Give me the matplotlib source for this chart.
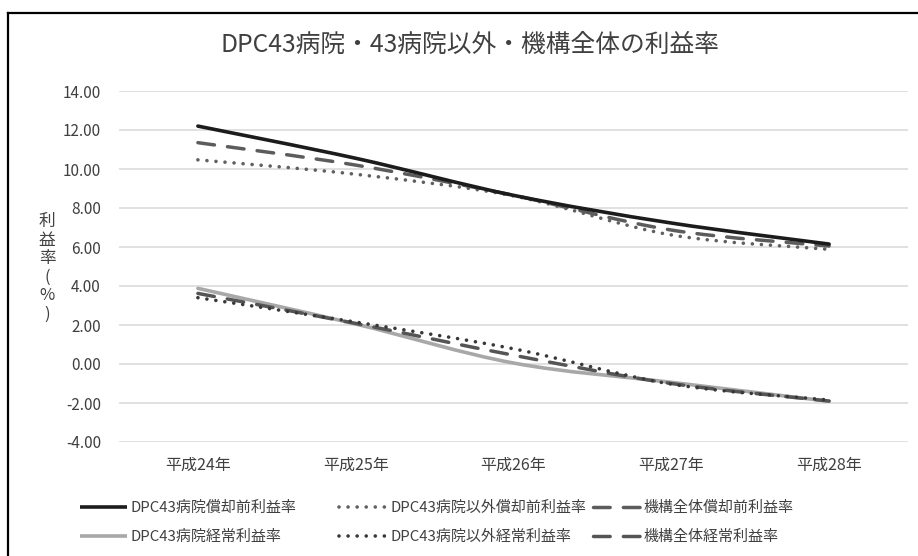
import matplotlib
matplotlib.use("Agg")
import matplotlib.pyplot as plt
from matplotlib.path import Path
from matplotlib.patches import PathPatch
from matplotlib.lines import Line2D
import numpy as np

plt.rcParams['font.family'] = ['Noto Sans CJK JP', 'DejaVu Sans']

categories = ["平成24年", "平成25年", "平成26年", "平成27年", "平成28年"]

dpc_before_dep = [12.20, 10.55, 8.65, 7.23, 6.15]
other_before_dep = [10.47, 9.73, 8.62, 6.62, 5.88]
org_before_dep = [11.35, 10.20, 8.65, 6.87, 6.05]
dpc_ordinary = [3.88, 2.05, 0.05, -0.94, -1.91]
other_ordinary = [3.40, 2.15, 0.78, -1.03, -1.85]
org_ordinary = [3.62, 2.08, 0.45, -1.00, -1.90]

series_labels = [
    "DPC43病院償却前利益率", "DPC43病院経常利益率",
    "DPC43病院以外償却前利益率", "DPC43病院以外経常利益率",
    "機構全体償却前利益率", "機構全体経常利益率",
]

yticks = [14, 12, 10, 8, 6, 4, 2, 0, -2, -4]

W, H = 918, 556
fig = plt.figure(figsize=(W / 100, H / 100), dpi=100)
ax = fig.add_axes([119 / W, 1 - 442 / H, (908 - 119) / W, (442 - 91) / H])


def smooth_path(xs, ys):
    """Cubic Bezier path through the points (Catmull-Rom style tangents)."""
    pts = np.column_stack([xs, ys]).astype(float)
    n = len(pts)
    verts = [pts[0]]
    codes = [Path.MOVETO]
    for i in range(n - 1):
        p0 = pts[i - 1] if i > 0 else pts[i]
        p1 = pts[i]
        p2 = pts[i + 1]
        p3 = pts[i + 2] if i + 2 < n else pts[i + 1]
        c1 = p1 + (p2 - p0) / 6.0
        c2 = p2 - (p3 - p1) / 6.0
        verts += [c1, c2, p2]
        codes += [Path.CURVE4] * 3
    return Path(verts, codes)


styles = {
    "dpc_b": dict(color="#1c1c1c", lw=2.6, ls="-"),
    "dpc_o": dict(color="#a8a8a8", lw=2.6, ls="-"),
    "oth_b": dict(color="#606060", lw=2.6, ls=(0, (0.01, 2.5))),
    "oth_o": dict(color="#383838", lw=2.6, ls=(0, (0.01, 2.5))),
    "org_b": dict(color="#5c5c5c", lw=2.5, ls=(0, (4.8, 3.8))),
    "org_o": dict(color="#555555", lw=2.5, ls=(0, (4.8, 3.8))),
}

x = np.arange(len(categories))
plot_order = [
    ("dpc_o", dpc_ordinary), ("org_o", org_ordinary), ("oth_o", other_ordinary),
    ("oth_b", other_before_dep), ("org_b", org_before_dep), ("dpc_b", dpc_before_dep),
]
for key, vals in plot_order:
    st = styles[key]
    patch = PathPatch(smooth_path(x, vals), fill=False, edgecolor=st["color"],
                      linewidth=st["lw"], linestyle=st["ls"], capstyle="round",
                      joinstyle="round", zorder=3)
    ax.add_patch(patch)

ax.set_xlim(-0.5, len(categories) - 0.5)
ax.set_ylim(-4, 14)
ax.set_yticks(yticks)
ax.set_yticklabels([f"{v:.2f}" for v in yticks], fontsize=11, color="#404040")
ax.set_xticks(x)
ax.set_xticklabels(categories, fontsize=11.5, color="#404040")
ax.tick_params(length=0)
ax.tick_params(axis="x", pad=11)
ax.tick_params(axis="y", pad=13)
for s in ax.spines.values():
    s.set_visible(False)
ax.grid(axis="y", color="#d9d9d9", linewidth=1.1)
ax.set_axisbelow(True)

# vertical stacked axis title
fig.text(47 / W, 1 - 268 / H, "利\n益\n率\n(\n%\n)", ha="center", va="center",
         fontsize=12, color="#404040", linespacing=1.12)

fig.text(470 / W, 1 - 45 / H, "DPC43病院・43病院以外・機構全体の利益率",
         ha="center", va="center", fontsize=17.8, color="#404040")

# legend: three columns of two entries each
handle_keys = [("dpc_b", "dpc_o"), ("oth_b", "oth_o"), ("org_b", "org_o")]
col_left = [80, 339, 593]
for c, (k1, k2) in enumerate(handle_keys):
    hs = []
    for k in (k1, k2):
        st = styles[k]
        hs.append(Line2D([], [], color=st["color"], lw=st["lw"], ls=st["ls"],
                         dash_capstyle="round", solid_capstyle="butt"))
    leg = fig.legend(hs, series_labels[2 * c:2 * c + 2], loc="center left",
                     bbox_to_anchor=(col_left[c] / W, 1 - 522.5 / H),
                     frameon=False, fontsize=10.8, handlelength=3.1,
                     handletextpad=0.3, labelspacing=1.0, borderpad=0,
                     borderaxespad=0)
    for t in leg.get_texts():
        t.set_color("#404040")

# chart frame (top and left edges)
fig.add_artist(Line2D([8 / W, 8 / W], [0, 1 - 13 / H], transform=fig.transFigure,
                      color="black", lw=1.6))
fig.add_artist(Line2D([8 / W, 1], [1 - 13 / H, 1 - 13 / H], transform=fig.transFigure,
                      color="black", lw=1.6))

fig.savefig("out.png", dpi=100)
